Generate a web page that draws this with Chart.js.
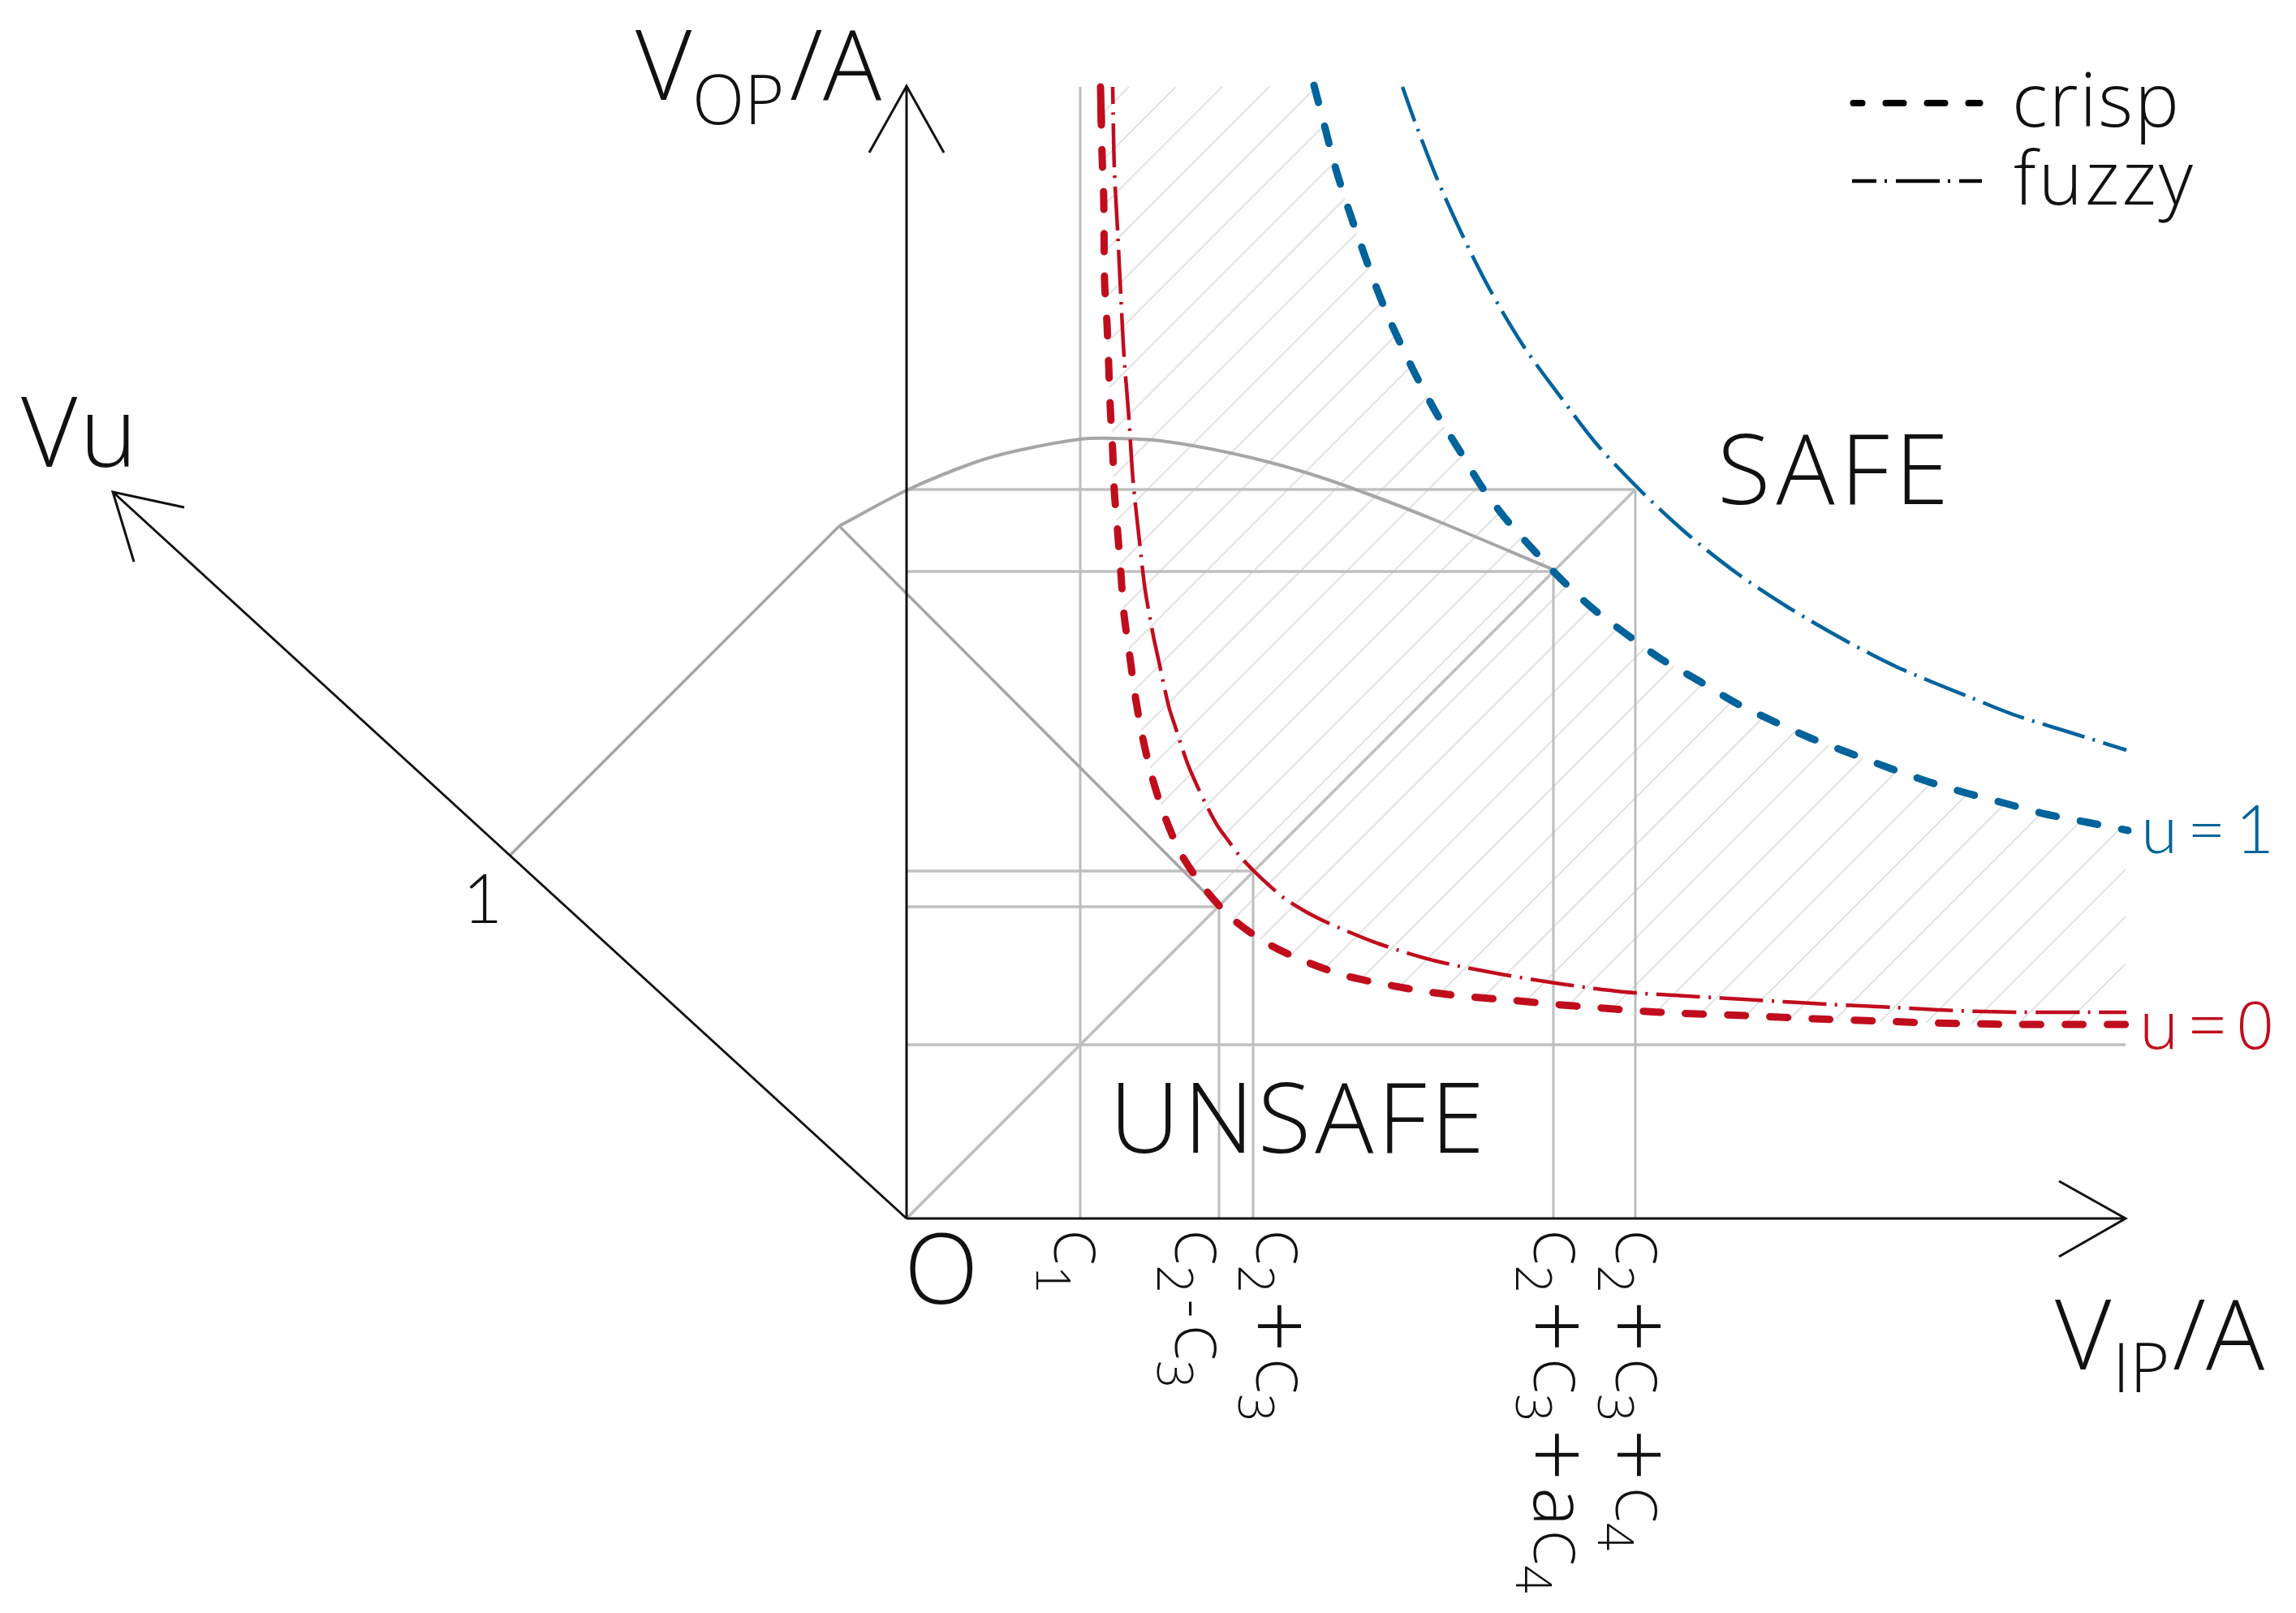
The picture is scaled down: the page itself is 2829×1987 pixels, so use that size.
<!DOCTYPE html>
<html>
<head>
<meta charset="utf-8">
<title>Fuzzy safety region</title>
<script src="https://cdn.jsdelivr.net/npm/chart.js@4"></script>
<style>
body { margin: 0; background: #fff; }
canvas { display: block; }
</style>
</head>
<body>
<canvas id="chart" width="2829" height="1987"></canvas>
<script>
'use strict';

// u=0 curves
const redCrispX = [239, 241, 243, 244, 247, 249, 251, 254, 256, 260, 264, 268, 275, 282, 291, 303, 319, 340, 370, 403, 446, 493, 541, 592, 643, 694, 745, 796, 847, 898, 949, 1033, 1118, 1205, 1257, 1308, 1370, 1431, 1503];
const redCrispY = [1394, 1307, 1254, 1155, 1102, 1053, 999, 946, 896, 847, 796, 744, 693, 642, 592, 542, 493, 446, 403, 368, 338, 316, 299, 288, 279, 273, 269, 264, 260, 256, 253, 250, 246, 243, 241, 240, 239, 239, 239];
const redHeadX = [239, 240];
const redHeadY = [1394, 1350];
const redFuzzyX = [254, 256, 260, 264, 268, 274, 279, 287, 293, 297, 304, 312, 323, 331, 346, 358, 370, 383, 396, 411, 428, 446, 466, 490, 511, 533, 583, 653, 732, 806, 885, 962, 1048, 1133, 1217, 1271, 1325, 1373, 1453, 1503];
const redFuzzyY = [1394, 1294, 1218, 1137, 1062, 986, 910, 834, 781, 756, 718, 681, 631, 606, 561, 533, 508, 484, 466, 446, 428, 411, 394, 379, 368, 358, 338, 317, 301, 289, 279, 274, 269, 264, 260, 257, 255, 254, 254, 254];

// u=1 curves
const blueCrispX = [502, 515, 528, 543, 560, 578, 597, 619, 630, 654, 682, 709, 739, 773, 806, 846, 888, 930, 975, 1020, 1065, 1111, 1160, 1208, 1256, 1306, 1355, 1404, 1455, 1505];
const blueCrispY = [1396, 1346, 1296, 1248, 1199, 1149, 1103, 1056, 1034, 990, 945, 901, 861, 823, 788, 751, 719, 689, 663, 636, 614, 593, 574, 556, 539, 524, 511, 498, 488, 478];
const blueFuzzyX = [611, 626, 654, 686, 720, 760, 805, 852, 905, 961, 1023, 1086, 1153, 1221, 1313, 1363, 1436, 1503];
const blueFuzzyY = [1394, 1352, 1280, 1209, 1142, 1075, 1013, 952, 896, 844, 795, 753, 714, 679, 641, 621, 598, 577];

// grey projection curve and the lines that lead to it
const archX = [-83, 0, 83, 137, 214, 255, 313, 399, 485, 559, 657, 795];
const archY = [853, 897, 931, 946, 960, 961, 958, 943, 921, 896, 858, 800];
const riseX = [-488, -83];
const riseY = [448, 853];
const fallX = [-83, 385];
const fallY = [853, 384];
const diagonalX = [0, 898];
const diagonalY = [0, 898];

// guide lines
const tickValues = [214, 385, 427, 797, 898];
const tickHeights = [1394, 384, 428, 797, 898];
const tickLabels = ['C1', 'C2-C3', 'C2+C3', 'C2+C3+aC4', 'C2+C3+C4'];
const levelValues = [898, 797, 428, 384, 214];
const levelEnds = [898, 797, 428, 385, 1502];

// hatching between the crisp curves, one line per index
const hatchTopX = [274, 332, 389, 447, 503, 515, 527, 540, 555, 570, 585, 604, 622, 642, 663, 685, 707, 732, 758, 786, 814, 844, 877, 910, 945, 981, 1017, 1056, 1095, 1136, 1178, 1220, 1263, 1308, 1353, 1398, 1447, 1494, 1502, 1502, 1502];
const hatchTopY = [1394, 1394, 1394, 1394, 1392, 1347, 1301, 1256, 1214, 1171, 1128, 1089, 1050, 1012, 975, 940, 904, 871, 839, 810, 780, 752, 728, 703, 680, 659, 637, 618, 600, 583, 567, 551, 537, 524, 511, 499, 490, 479, 430, 372, 314];
const hatchLowX = [240, 241, 243, 244, 245, 248, 250, 253, 255, 259, 263, 267, 274, 280, 289, 300, 313, 330, 350, 374, 403, 436, 474, 515, 560, 607, 657, 710, 762, 815, 869, 924, 978, 1034, 1090, 1145, 1200, 1256, 1312, 1369, 1427];
const hatchLowY = [1360, 1303, 1248, 1191, 1134, 1080, 1024, 969, 914, 860, 806, 752, 702, 650, 601, 555, 510, 469, 431, 398, 369, 344, 325, 308, 295, 285, 277, 272, 267, 262, 258, 255, 252, 250, 248, 246, 243, 241, 240, 239, 239];

// axes with their arrow heads
const axisX = [0, 0, null, -46, 0, 46, null, 0, 1502, null, 1420, 1502, 1420, null, 0, -978, null, -890, -978, -952];
const axisY = [0, 1395, null, 1313, 1395, 1313, null, 0, 0, null, 46, 0, -47, null, 0, 895, null, 876, 895, 809];

// legend samples
const legendCrispX = [1166.5, 1322.5];
const legendCrispY = [1374, 1374];
const legendFuzzyX = [1165, 1325];
const legendFuzzyY = [1278, 1278];

// free text, split where the size changes
const labelTexts = ['V', 'OP', '/A', 'V', 'IP', '/A', 'Vu', '1', 'O', 'SAFE', 'UNSAFE', 'crisp', 'fuzzy', 'u=1', 'u=0'];
const labelX = [-334, -264, -144, 1415, 1486, 1560, -1091, -547, -3, 999, 250, 1362, 1364, 1521, 1519];
const labelY = [1378, 1348, 1378, -186, -214, -186, 926, 364, -105, 880, 81, 1345, 1249, 450, 209];
const labelSizes = [120, 84, 120, 120, 84, 120, 120, 85, 120, 120, 120, 92, 92, 82, 82];
const labelColors = ['#111', '#111', '#111', '#111', '#111', '#111', '#111', '#111', '#111', '#111', '#111', '#111', '#111', '#00639b', '#c00d1e'];
const labelSpacing = [0, 0, 0, 0, 0, 0, 3, 0, 0, 7, 5, 2, 3, 12, 12];
const labelFonts = ['Open Sans', 'Open Sans', 'Open Sans', 'Open Sans', 'Open Sans', 'Open Sans', 'Open Sans', 'Lato', 'Open Sans', 'Open Sans', 'Open Sans', 'Open Sans', 'Open Sans', 'Lato', 'Open Sans'];

// baseline of each rotated tick label
const tickTextX = [182, 331, 431, 773, 874];
const tickTextY = -14;

const RED = '#c00d1e';
const BLUE = '#00639b';

function zipPoints(xs, ys) {
    return xs.map((x, i) => ({x: x, y: ys[i]}));
}

function gapPoints(x1, y1, x2, y2) {
    let points = [];
    for (let i = 0; i < x1.length; i++) {
        points.push({x: x1[i], y: y1[i]}, {x: x2[i], y: y2[i]}, {x: null, y: null});
    }
    return points;
}

function lineSet(points, color, width, extra) {
    return Object.assign({
        data: points,
        showLine: true,
        borderColor: color,
        borderWidth: width,
        pointRadius: 0,
        fill: false,
        spanGaps: false,
        tension: 0
    }, extra || {});
}

const crispStyle = {borderDash: [22, 30], borderCapStyle: 'round', tension: 0.3};
const fuzzyStyle = {borderDash: [54, 10.5, 3, 10.5], tension: 0.3};

// first dataset ends up on top
const datasets = [
    lineSet(zipPoints(redCrispX, redCrispY), RED, 9, Object.assign({borderDashOffset: 27}, crispStyle)),
    lineSet(zipPoints(redHeadX, redHeadY), RED, 9, {borderCapStyle: 'round'}),
    lineSet(zipPoints(redFuzzyX, redFuzzyY), RED, 4.5, Object.assign({borderDashOffset: 33}, fuzzyStyle)),
    lineSet(zipPoints(blueCrispX, blueCrispY), BLUE, 9, crispStyle),
    lineSet(zipPoints(blueFuzzyX, blueFuzzyY), BLUE, 4.5, Object.assign({borderDashOffset: 9}, fuzzyStyle)),
    lineSet(zipPoints(legendCrispX, legendCrispY), '#000', 8, {borderDash: [22, 29], borderDashOffset: 11, borderCapStyle: 'round'}),
    lineSet(zipPoints(legendFuzzyX, legendFuzzyY), '#000', 4.5, {borderDash: [54, 10, 3, 11], borderDashOffset: 24}),
    lineSet(zipPoints(axisX, axisY), '#111', 3),
    lineSet(zipPoints(archX, archY), '#a6a6a6', 4, {tension: 0.3}),
    lineSet(zipPoints(riseX, riseY), '#a6a6a6', 3.5),
    lineSet(zipPoints(fallX, fallY), '#a6a6a6', 3.5),
    lineSet(zipPoints(diagonalX, diagonalY), '#bfbfbf', 3.5),
    lineSet(gapPoints(tickValues, tickHeights.map(() => 0), tickValues, tickHeights), '#bdbdbd', 3),
    lineSet(gapPoints(levelValues.map(() => 0), levelValues, levelEnds, levelValues), '#c0c0c0', 3.5),
    lineSet(gapPoints(hatchTopX, hatchTopY, hatchLowX, hatchLowY), '#e2e2e2', 2)
];

// size, drop below baseline and padding for the characters of a tick label
function tickGlyph(ch) {
    if (ch == '1') return {size: 60, drop: 22, before: 0, after: 0, font: 'Lato'};
    if (/[0-9]/.test(ch)) return {size: 60, drop: 22, before: 0, after: 0, font: 'Open Sans'};
    if (ch == '+') return {size: 112, drop: 11, before: 9, after: 8, font: 'Open Sans'};
    if (ch == '-') return {size: 70, drop: 0, before: 8, after: 9, font: 'Open Sans'};
    if (ch == 'a') return {size: 90, drop: 0, before: 0, after: 5, font: 'Open Sans'};
    return {size: 70, drop: 0, before: 0, after: 0, font: 'Open Sans'};
}

function drawLabels(chart) {
    const ctx = chart.ctx;
    const xs = chart.scales.x;
    const ys = chart.scales.y;
    ctx.save();
    ctx.textAlign = 'left';
    ctx.textBaseline = 'alphabetic';
    for (let i = 0; i < labelTexts.length; i++) {
        ctx.font = "300 " + labelSizes[i] + "px '" + labelFonts[i] + "'";
        ctx.letterSpacing = labelSpacing[i] + 'px';
        ctx.fillStyle = labelColors[i];
        ctx.fillText(labelTexts[i], xs.getPixelForValue(labelX[i]), ys.getPixelForValue(labelY[i]));
    }
    ctx.letterSpacing = '0px';
    ctx.fillStyle = '#111';
    for (let i = 0; i < tickLabels.length; i++) {
        ctx.save();
        ctx.translate(xs.getPixelForValue(tickTextX[i]), ys.getPixelForValue(tickTextY));
        ctx.rotate(Math.PI / 2);
        let pos = 0;
        for (const ch of tickLabels[i]) {
            const g = tickGlyph(ch);
            ctx.font = "300 " + g.size + "px '" + g.font + "'";
            pos += g.before;
            ctx.fillText(ch, pos, g.drop);
            pos += ctx.measureText(ch).width + g.after;
        }
        ctx.restore();
    }
    ctx.restore();
}

new Chart(document.getElementById('chart').getContext('2d'), {
    type: 'scatter',
    data: {datasets: datasets},
    options: {
        responsive: false,
        devicePixelRatio: 1,
        animation: false,
        events: [],
        layout: {padding: 0},
        scales: {
            x: {type: 'linear', display: false, min: -1117, max: 1712},
            y: {type: 'linear', display: false, min: -486, max: 1501}
        },
        plugins: {legend: {display: false}, title: {display: false}, tooltip: {enabled: false}}
    },
    plugins: [{id: 'labels', afterDraw: drawLabels}]
});
</script>
</body>
</html>
